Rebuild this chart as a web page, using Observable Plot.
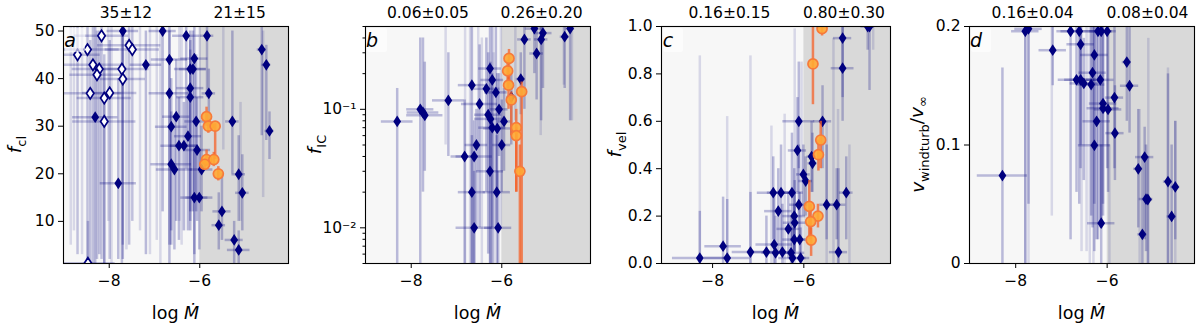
<!DOCTYPE html>
<html><head><meta charset="utf-8">
<script src="https://cdn.jsdelivr.net/npm/d3@7"></script>
<script src="https://cdn.jsdelivr.net/npm/@observablehq/plot@0.6"></script>
<style>
body{margin:0;background:#fff;}
#wrap{position:relative;width:1200px;height:330px;font-family:"DejaVu Sans",sans-serif;}
.panel{position:absolute;top:0;width:300px;height:330px;}
</style></head><body><div id="wrap"></div>
<script>
// ---------- shared ----------
const BOUNDARY = -6;
const X_TICKS = [-8, -6];
const LETTERS = ["a", "b", "c", "d"];
const STATS_LEFT = ["35±12", "0.06±0.05", "0.16±0.15", "0.16±0.04"];
const STATS_RIGHT = ["21±15", "0.26±0.20", "0.80±0.30", "0.08±0.04"];

// ---------- panel a : f_cl ----------
const aX   = [-7.70,-6.82,-6.30,-5.84,-4.63,-4.53,-7.19,-6.67,-6.12,-6.21,-6.15,-6.21,-6.67,-6.21,-5.80,-8.31,-6.52,-6.63,-6.08,-5.28,-4.46,-6.26,-6.46,-6.35,-6.06,-6.63,-6.56,-5.96,-7.80,-5.14,-5.06,-6.12,-6.01,-5.51,-5.58,-5.24,-5.14];
const aY   = [50.0,50.0,49.0,49.0,46.1,42.9,42.9,44.0,44.2,42.0,42.0,38.0,36.9,36.1,36.9,31.9,32.0,29.9,31.0,31.0,29.0,27.9,25.9,25.9,25.0,22.0,20.9,20.9,18.0,19.9,16.0,15.0,15.0,12.1,9.2,6.1,4.0];
const aXe  = [0.35,0.3,0.3,0.15,0.1,0.1,0.35,0.4,0.3,0.35,0.3,0.3,0.45,0.3,0.15,0.5,0.3,0.35,0.25,0.15,0.1,0.3,0.4,0.3,0.3,0.45,0.4,0.25,0.4,0.15,0.15,0.3,0.3,0.2,0.15,0.2,0.25];
const aYlo = [2,12,21,36,28,27,3,1,1,8,12,10,5,12,30,1,10,8,12,20,23,8,6,8,10,5,4,12,2,10,8,3,4,6,4,1,1];
const aYhi = [55,55,55,52,52,47,50,55,55,50,50,48,50,46,42,55,44,40,45,50,33,38,36,35,36,33,32,30,40,28,24,25,25,20,16,10,8];
const aOpenX   = [-8.17,-8.70,-8.48,-7.56,-7.49,-8.36,-8.22,-8.27,-7.72,-7.70,-8.42,-7.99,-8.11,-8.11,-8.47];
const aOpenY   = [49.0,45.0,46.1,47.0,46.1,42.9,42.0,40.8,42.0,39.9,36.9,37.0,35.9,31.0,1.2];
const aOpenXe  = [0.6,0.5,0.7,0.7,0.6,0.7,0.6,0.6,0.6,0.5,0.7,0.6,0.6,0.7,0.6];
const aOpenYlo = [2,3,1,5,10,1,3,2,1,5,1,2,1,1,0];
const aOpenYhi = [55,55,55,55,55,52,50,50,50,50,48,48,45,42,10];
const aOrX   = [-5.85,-5.81,-5.66,-5.85,-5.69,-5.89,-5.59];
const aOrY   = [32.0,30.0,30.0,23.0,23.0,22.0,20.0];
const aOrYlo = [30,28.5,23,21.5,21.5,21,18.5];
const aOrYhi = [34,31.5,30.5,25,24.5,23,21.5];
const aGhX  = [-8.85,-8.78,-8.60,-8.02,-7.95,-7.62,-7.32,-7.10,-6.95,-6.87,-6.45,-6.40,-6.00,-5.48,-5.10,-4.60];
const aGhLo = [5,8,3,10,1,4,8,3,6,1,10,5,20,25,10,15];
const aGhHi = [55,55,55,55,55,48,55,55,55,50,55,55,52,52,35,50];

// ---------- panel b : f_IC ----------
const bX   = [-8.31,-7.80,-7.74,-7.70,-7.18,-6.66,-6.49,-6.26,-6.21,-6.34,-6.13,-6.06,-6.30,-6.25,-5.95,-6.21,-6.10,-6.56,-6.00,-6.82,-6.61,-6.26,-6.66,-6.11,-6.61,-6.08,-5.50,-5.23,-5.13,-5.09,-5.28,-4.61,-4.49,-5.58,-5.79];
const bY   = [0.079,0.10,0.094,0.089,0.119,0.16,0.111,0.221,0.177,0.149,0.139,0.10,0.090,0.083,0.079,0.070,0.069,0.050,0.050,0.040,0.040,0.030,0.020,0.020,0.010,0.010,0.389,0.296,0.389,0.44,0.48,0.41,0.48,0.18,0.127];
const bXe  = [0.35,0.3,0.35,0.4,0.35,0.3,0.4,0.25,0.25,0.3,0.25,0.2,0.3,0.35,0.15,0.3,0.3,0.25,0.2,0.3,0.4,0.3,0.3,0.3,0.4,0.3,0.15,0.15,0.15,0.2,0.2,0.1,0.1,0.1,0.1];
const bYlo = [0.004,0.004,0.02,0.03,0.04,0.004,0.01,0.03,0.005,0.02,0.01,0.04,0.006,0.004,0.03,0.01,0.02,0.01,0.02,0.004,0.004,0.004,0.004,0.004,0.004,0.004,0.1,0.12,0.08,0.15,0.2,0.15,0.08,0.09,0.05];
const bYhi = [0.15,0.4,0.4,0.25,0.3,0.5,0.35,0.5,0.5,0.4,0.5,0.2,0.3,0.25,0.15,0.2,0.2,0.1,0.12,0.12,0.08,0.09,0.06,0.06,0.03,0.03,0.5,0.5,0.5,0.5,0.6,0.6,0.6,0.3,0.2];
const bOrX   = [-5.84,-5.87,-5.85,-5.79,-5.56,-5.68,-5.68,-5.60];
const bOrY   = [0.269,0.211,0.16,0.12,0.141,0.070,0.060,0.030];
const bOrYlo = [0.16,0.15,0.1,0.06,0.004,0.02,0.02,0.004];
const bOrYhi = [0.32,0.26,0.2,0.14,0.17,0.1,0.07,0.05];
const bGhX  = [-7.24,-6.81,-6.70,-6.52,-6.44,-6.18,-6.02,-5.70,-5.14,-4.45,-4.63];
const bGhLo = [0.05,0.004,0.004,0.03,0.005,0.004,0.01,0.08,0.06,0.08,0.16];
const bGhHi = [0.5,0.5,0.5,0.5,0.4,0.3,0.5,0.5,0.5,0.5,0.5];
const bMinor = [0.005,0.006,0.007,0.008,0.009,0.02,0.03,0.04,0.05,0.06,0.07,0.08,0.09,0.2,0.3,0.4,0.5];

// ---------- panel c : f_vel ----------
const cX   = [-8.28,-7.77,-7.68,-7.17,-6.82,-6.65,-6.62,-6.47,-6.28,-6.25,-6.07,-6.67,-6.50,-6.26,-6.56,-6.34,-6.21,-6.20,-6.21,-6.09,-6.11,-6.01,-5.96,-6.14,-5.83,-5.81,-6.11,-5.59,-5.50,-5.28,-5.07,-5.24,-5.15,-5.15,-4.56,-4.60];
const cY   = [0.023,0.073,0.023,0.048,0.048,0.080,0.045,0.048,0.045,0.023,0.023,0.299,0.299,0.299,0.221,0.146,0.20,0.172,0.101,0.101,0.248,0.376,0.348,0.477,0.451,0.423,0.60,0.60,0.248,0.248,0.299,0.048,0.951,0.824,1.0,1.0];
const cXe  = [0.6,0.4,0.5,0.4,0.3,0.4,0.3,0.3,0.3,0.3,0.2,0.35,0.3,0.25,0.3,0.25,0.25,0.25,0.25,0.2,0.2,0.15,0.15,0.2,0.1,0.1,0.35,0.2,0.15,0.2,0.15,0.2,0.2,0.25,0.1,0.15];
const cYlo = [0,0,0,0,0,0,0,0,0,0,0,0.1,0.05,0.1,0.05,0.02,0.05,0.05,0.02,0.03,0.1,0.2,0.2,0.3,0.3,0.3,0.4,0.4,0.1,0.1,0.1,0,0.7,0.6,0.73,0.9];
const cYhi = [0.22,0.28,0.27,0.3,0.2,0.3,0.2,0.25,0.2,0.15,0.15,0.45,0.5,0.55,0.4,0.3,0.4,0.35,0.25,0.3,0.5,0.5,0.45,0.7,0.6,0.55,0.85,0.75,0.5,0.4,0.45,0.4,1.0,1.0,1.0,1.0];
const cOrX   = [-5.60,-5.80,-5.63,-5.68,-5.88,-5.69,-5.85,-5.84];
const cOrY   = [0.991,0.842,0.521,0.459,0.241,0.20,0.177,0.099];
const cOrYlo = [0.96,0.67,0.4,0.39,0.1,0.15,0.1,0.03];
const cOrYhi = [1.1,1.05,0.6,0.52,0.35,0.25,0.25,0.15];
const cGhX  = [-8.28,-7.68,-7.17,-6.71,-6.42,-6.20,-6.05,-5.50,-5.25,-5.00,-4.48,-5.35];
const cGhLo = [0,0,0,0,0,0,0,0,0,0,0.9,0];
const cGhHi = [0.876,0.62,0.876,0.58,0.63,0.99,0.85,0.6,0.65,0.5,1.0,0.95];

// ---------- panel d : v_windturb / v_inf ----------
const dX   = [-8.29,-7.79,-7.72,-7.19,-6.80,-6.61,-6.58,-6.20,-6.13,-6.00,-6.28,-6.32,-6.67,-6.58,-6.51,-6.35,-6.15,-5.57,-5.51,-5.84,-6.09,-6.09,-5.98,-6.23,-5.83,-6.28,-5.18,-5.32,-4.67,-4.51,-5.15,-5.11,-4.59,-6.13,-5.23];
const dY   = [0.0742,0.196,0.198,0.180,0.196,0.196,0.185,0.196,0.196,0.196,0.176,0.161,0.155,0.155,0.152,0.151,0.155,0.170,0.150,0.140,0.135,0.131,0.130,0.120,0.110,0.0997,0.0898,0.0799,0.0691,0.0646,0.0544,0.054,0.0397,0.034,0.0246];
const dXe  = [0.55,0.3,0.3,0.3,0.3,0.4,0.3,0.3,0.25,0.2,0.3,0.3,0.4,0.35,0.3,0.3,0.3,0.1,0.2,0.2,0.3,0.35,0.3,0.3,0.2,0.35,0.2,0.1,0.1,0.1,0.15,0.1,0.1,0.3,0.1];
const dYlo = [0,0,0.05,0.15,0.02,0.05,0.1,0.02,0.03,0.08,0.05,0.03,0.06,0.08,0.07,0.04,0.03,0.12,0.11,0.08,0.04,0.05,0.06,0.02,0.07,0.01,0.02,0.03,0,0.02,0.01,0,0,0,0];
const dYhi = [0.165,0.2,0.2,0.2,0.2,0.2,0.2,0.2,0.2,0.2,0.2,0.2,0.2,0.2,0.19,0.2,0.2,0.2,0.2,0.2,0.2,0.2,0.2,0.2,0.15,0.2,0.115,0.13,0.16,0.12,0.1,0.09,0.1,0.1,0.09];
const dGhX  = [-7.79,-7.72,-7.21,-6.56,-6.45,-6.38,-6.30,-5.29,-5.10,-4.67,-4.51,-5.95];
const dGhLo = [0,0,0.04,0.01,0.01,0,0,0,0,0,0,0];
const dGhHi = [0.2,0.2,0.2,0.2,0.2,0.2,0.2,0.13,0.19,0.165,0.12,0.1];

// ---------- helpers ----------
const NAVY = "#00007f";
const thinDiamond = {draw(ctx, size){const r=Math.sqrt(size/Math.PI);const w=r*0.66;ctx.moveTo(0,-r);ctx.lineTo(w,0);ctx.lineTo(0,r);ctx.lineTo(-w,0);ctx.closePath();}};
const zipPts = (x,y,xe,lo,hi) => x.map((v,i)=>({x:v,y:y[i],xe:xe?xe[i]:0,lo:lo[i],hi:hi[i]}));
const zipGh = (x,lo,hi) => x.map((v,i)=>({x:v,lo:lo[i],hi:hi[i]}));
const fmtMinus = d => d < 0 ? "\u2212" + (-d) : String(d);
const sup = {"-":"\u207B","1":"\u00B9","2":"\u00B2"};

const panels = [
  {x0:0, mL:63, mR:12, xDom:[-9.01,-4.04],
   y:{type:"linear", domain:[1.15,50.95], ticks:[10,20,30,40,50], fmt:d=>String(d)},
   pts:zipPts(aX,aY,aXe,aYlo,aYhi), open:zipPts(aOpenX,aOpenY,aOpenXe,aOpenYlo,aOpenYhi),
   orange:zipPts(aOrX,aOrY,null,aOrYlo,aOrYhi), ghosts:zipGh(aGhX,aGhLo,aGhHi),
   ylab:[["f",true,false],["cl",false,true]]},
  {x0:300, mL:65, mR:10, xDom:[-9.01,-4.04],
   y:{type:"log", domain:[0.005,0.5], ticks:[0.01,0.1], fmt:d=>"10"+String(Math.round(Math.log10(d))).split("").map(c=>sup[c]).join(""), minor:bMinor},
   pts:zipPts(bX,bY,bXe,bYlo,bYhi), open:[],
   orange:zipPts(bOrX,bOrY,null,bOrYlo,bOrYhi), ghosts:zipGh(bGhX,bGhLo,bGhHi),
   ylab:[["f",true,false],["IC",false,true]]},
  {x0:600, mL:61, mR:10, xDom:[-9.12,-4.10],
   y:{type:"linear", domain:[0,1], ticks:[0,0.2,0.4,0.6,0.8,1.0], fmt:d3.format(".1f")},
   pts:zipPts(cX,cY,cXe,cYlo,cYhi), open:[],
   orange:zipPts(cOrX,cOrY,null,cOrYlo,cOrYhi), ghosts:zipGh(cGhX,cGhLo,cGhHi),
   ylab:[["f",true,false],["vel",false,true]]},
  {x0:900, mL:69, mR:6, xDom:[-9.01,-4.09],
   y:{type:"linear", domain:[0,0.2], ticks:[0,0.1,0.2], fmt:d=>d===0?"0":String(d)},
   pts:zipPts(dX,dY,dXe,dYlo,dYhi), open:[],
   orange:[], ghosts:zipGh(dGhX,dGhLo,dGhHi),
   ylab:[["v",true,false],["windturb",false,true],["/",false,false],["v",true,false],["\u221E",false,true]]}
];

const W = 300, H = 330, mT = 26, mB = 67;
const wrap = document.getElementById("wrap");

panels.forEach((p, i) => {
  const yDom = p.y.domain;
  const marks = [
    Plot.rect([{a:p.xDom[0], b:BOUNDARY, c:yDom[0], d:yDom[1]}], {x1:"a", x2:"b", y1:"c", y2:"d", fill:"#f7f7f7"}),
    Plot.rect([{a:BOUNDARY, b:p.xDom[1], c:yDom[0], d:yDom[1]}], {x1:"a", x2:"b", y1:"c", y2:"d", fill:"#d9d9d9"}),
    Plot.ruleX(p.ghosts, {x:"x", y1:"lo", y2:"hi", stroke:NAVY, strokeOpacity:0.13, strokeWidth:2.5, clip:true}),
    Plot.ruleX(p.open, {x:"x", y1:"lo", y2:"hi", stroke:NAVY, strokeOpacity:0.22, strokeWidth:2.5, clip:true}),
    Plot.ruleY(p.open, {y:"y", x1:d=>d.x-d.xe, x2:d=>d.x+d.xe, stroke:NAVY, strokeOpacity:0.22, strokeWidth:2.5, clip:true}),
    Plot.ruleX(p.pts, {x:"x", y1:"lo", y2:"hi", stroke:NAVY, strokeOpacity:0.25, strokeWidth:2.5, clip:true}),
    Plot.ruleY(p.pts, {y:"y", x1:d=>d.x-d.xe, x2:d=>d.x+d.xe, stroke:NAVY, strokeOpacity:0.25, strokeWidth:2.5, clip:true}),
    Plot.dot(p.open, {x:"x", y:"y", symbol:thinDiamond, r:5.6, fill:"white", stroke:NAVY, strokeWidth:1.7, clip:true}),
    Plot.dot(p.pts, {x:"x", y:"y", symbol:thinDiamond, r:5.9, fill:NAVY, stroke:"none", clip:true}),
    Plot.ruleX(p.orange, {x:"x", y1:"lo", y2:"hi", stroke:"#f4622a", strokeOpacity:0.75, strokeWidth:2.5, clip:true}),
    Plot.dot(p.orange, {x:"x", y:"y", r:5, fill:"#ffa833", fillOpacity:0.9, stroke:"#f77a3a", strokeWidth:1.7, clip:true}),
    Plot.frame({stroke:"black", strokeWidth:1.1}),
    Plot.axisX({ticks:X_TICKS, tickSize:5, tickPadding:6, tickFormat:fmtMinus, label:null}),
    Plot.axisY({ticks:p.y.ticks, tickSize:5, tickPadding:4, tickFormat:p.y.fmt, label:null}),
    Plot.text([{x:-7.63, t:STATS_LEFT[i]}, {x:-5.12, t:STATS_RIGHT[i]}], {x:"x", text:"t", frameAnchor:"top", dy:-13, lineAnchor:"middle", fontSize:15.5})
  ];
  if (p.y.minor) marks.push(Plot.axisY({ticks:p.y.minor, tickSize:2.5, tickFormat:()=>"", label:null}));
  const svg = Plot.plot({
    width:W, height:H, marginTop:mT, marginBottom:mB, marginLeft:p.mL, marginRight:p.mR,
    style:{fontFamily:"DejaVu Sans", fontSize:"15.5px", background:"transparent", color:"black"},
    x:{domain:p.xDom}, y:{type:p.y.type, domain:yDom},
    marks
  });
  const div = document.createElement("div");
  div.className = "panel";
  div.style.left = p.x0 + "px";
  div.appendChild(svg);
  wrap.appendChild(div);

  const s = d3.select(svg);
  // panel letter with faint box
  s.append("rect").attr("x", p.mL + 2).attr("y", mT + 2).attr("width", 20).attr("height", 24)
    .attr("rx", 2).attr("fill", "white").attr("fill-opacity", 0.6);
  s.append("text").attr("x", p.mL + 7).attr("y", mT + 21).attr("font-size", 19)
    .attr("font-style", "italic").attr("fill", "black").text(LETTERS[i]);
  // x label
  const cx = (p.mL + (W - p.mR)) / 2;
  const xl = s.append("text").attr("x", cx).attr("y", 319).attr("text-anchor","middle")
    .attr("font-size", 17.5).attr("fill","black");
  xl.append("tspan").text("log ");
  xl.append("tspan").attr("font-style","italic").text("\u1E40");
  // y label
  const yl = s.append("text").attr("transform", `translate(${i===3?18:15},${(mT + H - mB)/2}) rotate(-90)`)
    .attr("text-anchor","middle").attr("dy","0.35em").attr("font-size", 18.5).attr("fill","black");
  let shifted = false;
  p.ylab.forEach(([t, it, sub]) => {
    const ts = yl.append("tspan").text(t);
    if (it) ts.attr("font-style","italic");
    if (sub) {
      ts.attr("font-size", 13);
      if (!shifted) { ts.attr("dy","0.35em"); shifted = true; }
    } else if (shifted) {
      ts.attr("dy","-0.33em"); shifted = false;
    }
  });
});
</script>
</body></html>
